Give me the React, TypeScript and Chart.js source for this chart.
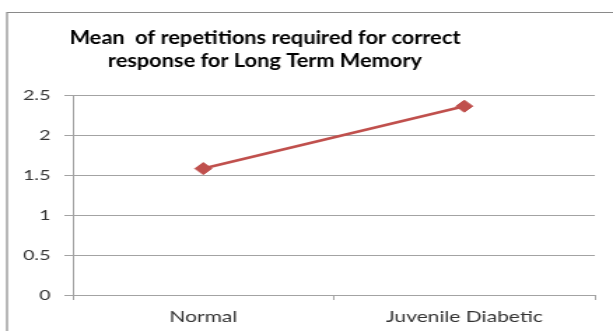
import React, { useEffect, useRef } from "react";
import { Chart, registerables } from "chart.js";

Chart.register(...registerables);

const categories = ["Normal", "Juvenile Diabetic"];
const meanRepetitions = [1.58, 2.36];
const yTickValues = [0, 0.5, 1, 1.5, 2, 2.5];
const yTickLabels = ["0", "0.5", "1", "1.5", "2", "2.5"];
const titleLines = ["Mean  of repetitions required for correct", "response for Long Term Memory"];

// The reference picture is stretched horizontally; the canvas is drawn narrower and widened by CSS.
const STRETCH = 1.4;
const CSS_W = 613;
const CSS_H = 331;
const W = Math.round(CSS_W / STRETCH);

const LINE_COLOR = "#C0504D";
const GRID_COLOR = "#a3a3a3";
const TEXT_COLOR = "#333333";

const framePlugin = {
  id: "frame",
  beforeDraw(chart: any) {
    const ctx = chart.ctx;
    ctx.save();
    ctx.fillStyle = "#ffffff";
    ctx.fillRect(0, 0, chart.width, chart.height);
    ctx.strokeStyle = "#8a8a8a";
    ctx.lineWidth = 1.2;
    ctx.beginPath();
    ctx.moveTo(5, chart.height + 5);
    ctx.lineTo(5, 12.5);
    ctx.lineTo(chart.width + 5, 12.5);
    ctx.stroke();
    ctx.restore();
  },
};

const titlePlugin = {
  id: "stretchedTitle",
  afterDraw(chart: any) {
    const ctx = chart.ctx;
    ctx.save();
    ctx.font = "bold 19px Lato";
    ctx.fillStyle = "#000000";
    ctx.textAlign = "center";
    ctx.textBaseline = "alphabetic";
    const targetW = 391 / STRETCH;
    const measured = ctx.measureText(titleLines[0]).width;
    const k = targetW / measured;
    const cx = 265 / STRETCH;
    ctx.translate(cx, 0);
    ctx.scale(k, 1);
    ctx.fillText(titleLines[0], 0, 44);
    ctx.fillText(titleLines[1], 0, 67);
    ctx.restore();
  },
};

export default function App() {
  const ref = useRef<HTMLCanvasElement | null>(null);

  useEffect(() => {
    if (!ref.current) return;
    const chart = new Chart(ref.current, {
      type: "line",
      data: {
        labels: categories,
        datasets: [
          {
            label: "Mean",
            data: meanRepetitions,
            borderColor: LINE_COLOR,
            backgroundColor: LINE_COLOR,
            borderWidth: 2.6,
            pointStyle: "rectRot",
            pointRadius: 6,
            pointBorderWidth: 1,
            pointBackgroundColor: LINE_COLOR,
            pointBorderColor: LINE_COLOR,
            tension: 0,
          },
        ],
      },
      options: {
        animation: false,
        responsive: false,
        devicePixelRatio: 1,
        layout: { padding: { top: 95, right: W - 425, left: 0, bottom: 0 } },
        plugins: {
          legend: { display: false },
          title: { display: false },
          tooltip: { enabled: false },
        },
        scales: {
          x: {
            type: "category",
            offset: true,
            grid: {
              display: true,
              drawOnChartArea: false,
              drawTicks: true,
              tickLength: 5,
              offset: true,
              color: GRID_COLOR,
            },
            border: { display: true, color: GRID_COLOR, width: 1 },
            ticks: {
              color: TEXT_COLOR,
              font: { family: "Lato", size: 15 },
              padding: 8,
              maxRotation: 0,
              autoSkip: false,
            },
            afterFit(scale: any) {
              scale.height = 36;
            },
          },
          y: {
            type: "linear",
            min: 0,
            max: 2.5,
            grid: {
              color: GRID_COLOR,
              drawTicks: true,
              tickLength: 6,
            },
            border: { display: true, color: GRID_COLOR, width: 1 },
            ticks: {
              stepSize: 0.5,
              color: TEXT_COLOR,
              font: { family: "Lato", size: 14 },
              padding: 10,
              callback: (value: any) => {
                const i = yTickValues.indexOf(Number(value));
                return i >= 0 ? yTickLabels[i] : String(value);
              },
            },
            afterBuildTicks(scale: any) {
              scale.ticks = yTickValues.map((v) => ({ value: v }));
            },
            afterFit(scale: any) {
              scale.width = 52;
            },
          },
        },
      },
      plugins: [framePlugin, titlePlugin],
    } as any);
    return () => chart.destroy();
  }, []);

  return (
    <div style={{ position: "fixed", left: 0, top: 0, width: CSS_W, height: CSS_H, background: "#fff" }}>
      <canvas
        ref={ref}
        width={W}
        height={CSS_H}
        style={{ display: "block", width: `${CSS_W}px`, height: `${CSS_H}px` }}
      />
    </div>
  );
}
